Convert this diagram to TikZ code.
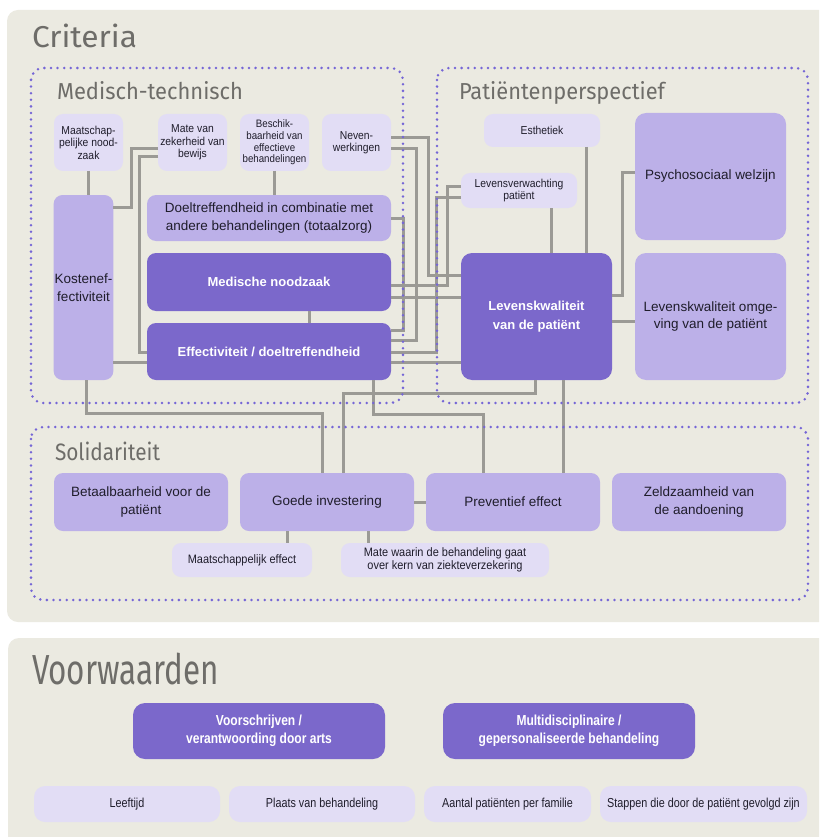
\documentclass[tikz,border=0pt]{standalone}
\usepackage{fontspec}
\usepackage{graphicx}
\setmainfont{Liberation Sans}
\newfontfamily\titlefont{Fira Sans}
\newfontfamily\condfont[FakeStretch=0.83]{Liberation Sans}
\newfontfamily\smallcond[FakeStretch=0.9]{Liberation Sans}
\definecolor{panel}{HTML}{EBEAE1}
\definecolor{light}{HTML}{E2DDF5}
\definecolor{medium}{HTML}{BCB0E8}
\definecolor{dark}{HTML}{7B68CB}
\definecolor{conn}{HTML}{9B9A95}
\definecolor{dotc}{HTML}{7566D6}
\definecolor{ttl}{HTML}{6E6D69}
\definecolor{txt}{HTML}{1F1D2B}
\tikzset{
  box/.style={rounded corners=9pt, inner sep=1pt, outer sep=0pt, align=center, text=txt},
  sm/.style={box, fill=light, font=\smallcond\fontsize{11.5}{12.5}\selectfont},
  smw/.style={box, fill=light, font=\smallcond\fontsize{12.2}{13.2}\selectfont},
  md/.style={box, fill=medium, font=\fontsize{13.5}{17.5}\selectfont},
  dk/.style={box, fill=dark, text=white, font=\bfseries\fontsize{13}{18.5}\selectfont},
  vsm/.style={box, rounded corners=11pt, fill=light, font=\condfont\fontsize{13}{16}\selectfont},
  vdk/.style={box, rounded corners=12pt, fill=dark, text=white, font=\condfont\bfseries\fontsize{14.5}{18}\selectfont},
  cn/.style={draw=conn, line width=3pt},
  dotbox/.style={draw=dotc, line width=2.8pt, line cap=round, dash pattern=on 0pt off 6.6pt, rounded corners=12pt},
  ttlnode/.style={anchor=base west, inner sep=0pt, outer sep=0pt, text=ttl, font=\titlefont}
}
\begin{document}
\begin{tikzpicture}[x=1pt,y=-1pt]
\useasboundingbox (0,0) rectangle (819,837);
\clip (0,0) rectangle (819,837);
\fill[white] (0,0) rectangle (819,837);
% panels
\fill[panel, rounded corners=11pt] (7,10) rectangle (840,622);
\fill[panel, rounded corners=11pt] (8,638) rectangle (840,850);

% titles
\node[ttlnode] (tcrit) at (32,48) {\resizebox{105pt}{23.5pt}{Criteria}};
\node[ttlnode] (tmed) at (57,100) {\resizebox{186pt}{18pt}{Medisch-technisch}};
\node[ttlnode] (tpat) at (459,100) {\resizebox{206pt}{18pt}{Patiëntenperspectief}};
\node[ttlnode] (tsol) at (55,460) {\resizebox{105pt}{18.5pt}{Solidariteit}};
\node[ttlnode] (tvoor) at (32,684) {\resizebox{187pt}{31.5pt}{Voorwaarden}};

% Medisch-technisch nodes
\node[sm, minimum width=69pt, minimum height=57pt] (maat) at (88.5,142.5) {Maatschap-\\pelijke nood-\\zaak};
\node[sm, minimum width=69pt, minimum height=57pt] (mate) at (192.5,142.5) {Mate van\\zekerheid van\\bewijs};
\node[sm, minimum width=69pt, minimum height=57pt, font=\smallcond\fontsize{10.8}{11.7}\selectfont] (besch) at (274.5,142.5) {Beschik-\\baarheid van\\effectieve\\behandelingen};
\node[sm, minimum width=69pt, minimum height=57pt] (neven) at (356.5,142.5) {Neven-\\werkingen};
\node[md, minimum width=244pt, minimum height=46pt] (doel) at (269,218) {Doeltreffendheid in combinatie met\\andere behandelingen (totaalzorg)};
\node[md, minimum width=59pt, minimum height=185pt] (kost) at (83.5,287.5) {Kostenef-\\fectiviteit};
\node[dk, minimum width=244pt, minimum height=58pt] (med) at (269,282) {Medische noodzaak};
\node[dk, minimum width=244pt, minimum height=57pt] (eff) at (269,351.5) {Effectiviteit / doeltreffendheid};

% Patientenperspectief nodes
\node[sm, minimum width=116pt, minimum height=33pt] (esth) at (542,130.5) {Esthetiek};
\node[sm, minimum width=116pt, minimum height=35pt] (levv) at (519,190.5) {Levensverwachting\\patiënt};
\node[md, rounded corners=11pt, minimum width=151pt, minimum height=127pt] (psy) at (710.5,176.5) {Psychosociaal welzijn};
\node[md, rounded corners=11pt, minimum width=151pt, minimum height=127pt] (lko) at (710.5,316.5) {Levenskwaliteit omge-\\ving van de patiënt};
\node[dk, rounded corners=11pt, minimum width=151pt, minimum height=127pt] (lkp) at (536.5,316.5) {Levenskwaliteit\\van de patiënt};

% Solidariteit nodes
\node[md, minimum width=174pt, minimum height=58pt] (bet) at (141,502) {Betaalbaarheid voor de\\patiënt};
\node[md, minimum width=174pt, minimum height=58pt] (goe) at (327,502) {Goede investering};
\node[md, minimum width=174pt, minimum height=58pt] (pre) at (513,502) {Preventief effect};
\node[md, minimum width=174pt, minimum height=58pt] (zel) at (699,502) {Zeldzaamheid van\\de aandoening};
\node[smw, minimum width=140pt, minimum height=34pt] (mef) at (242,560) {Maatschappelijk effect};
\node[smw, minimum width=208pt, minimum height=34pt] (mwd) at (445,560) {Mate waarin de behandeling gaat\\over kern van ziekteverzekering};

% Voorwaarden nodes
\node[vdk, minimum width=252pt, minimum height=56pt] (vsch) at (259,731) {Voorschrijven /\\verantwoording door arts};
\node[vdk, minimum width=252pt, minimum height=56pt] (mult) at (569,731) {Multidisciplinaire /\\gepersonaliseerde behandeling};
\node[vsm, minimum width=186pt, minimum height=36pt] (leef) at (127,804) {Leeftijd};
\node[vsm, minimum width=186pt, minimum height=36pt] (plts) at (322,804) {Plaats van behandeling};
\node[vsm, minimum width=167pt, minimum height=36pt] (aant) at (507.5,804) {Aantal patiënten per familie};
\node[vsm, minimum width=207pt, minimum height=36pt] (stap) at (703.5,804) {Stappen die door de patiënt gevolgd zijn};

% connectors
\draw[cn] (maat.south) -- (maat.south |- kost.north);
\draw[cn] (mate.west |- 0,149) -| (131,207) -- (kost.east |- 0,207);
\draw[cn] (mate.west |- 0,157) -| (139,352) -- (eff.west |- 0,352);
\draw[cn] (kost.east |- 0,362) -- (eff.west |- 0,362);
\draw[cn] (besch.south) -- (besch.south |- doel.north);
\draw[cn] (med.south -| 309,0) -- (eff.north -| 309,0);
\draw[cn] (neven.east |- 0,138) -| (428,275) -- (lkp.west |- 0,275);
\draw[cn] (neven.east |- 0,149) -| (416,340) -- (eff.east |- 0,340);
\draw[cn] (doel.east |- 0,218) -| (403,330) -- (eff.east |- 0,330);
\draw[cn] (med.east |- 0,285) -| (447,186) -- (levv.west |- 0,186);
\draw[cn] (eff.east |- 0,352) -| (436,197) -- (levv.west |- 0,197);
\draw[cn] (med.east |- 0,297) -- (lkp.west |- 0,297);
\draw[cn] (eff.east |- 0,362) -- (lkp.west |- 0,362);
\draw[cn] (lkp.south -| 535,0) |- (343,393) -- (goe.north -| 343,0);
\draw[cn] (eff.south -| 373,0) |- (483,414) -- (pre.north -| 483,0);
\draw[cn] (kost.south -| 86,0) |- (322,413) -- (goe.north -| 322,0);
\draw[cn] (lkp.south -| 563,0) -- (pre.north -| 563,0);
\draw[cn] (goe.east) -- (pre.west);
\draw[cn] (goe.south -| 287,0) -- (mef.north -| 287,0);
\draw[cn] (goe.south -| 368,0) -- (mwd.north -| 368,0);
\draw[cn] (levv.south -| 551,0) -- (lkp.north -| 551,0);
\draw[cn] (esth.south -| 586,0) -- (lkp.north -| 586,0);
\draw[cn] (lkp.east |- 0,295) -| (622,173) -- (psy.west |- 0,173);
\draw[cn] (lkp.east |- 0,321) -- (lko.west |- 0,321);

% dotted group boxes
\draw[dotbox] (31,68) rectangle (403,403);
\draw[dotbox] (437,68) rectangle (808,403);
\draw[dotbox] (31,427) rectangle (808,600);
\end{tikzpicture}
\end{document}
